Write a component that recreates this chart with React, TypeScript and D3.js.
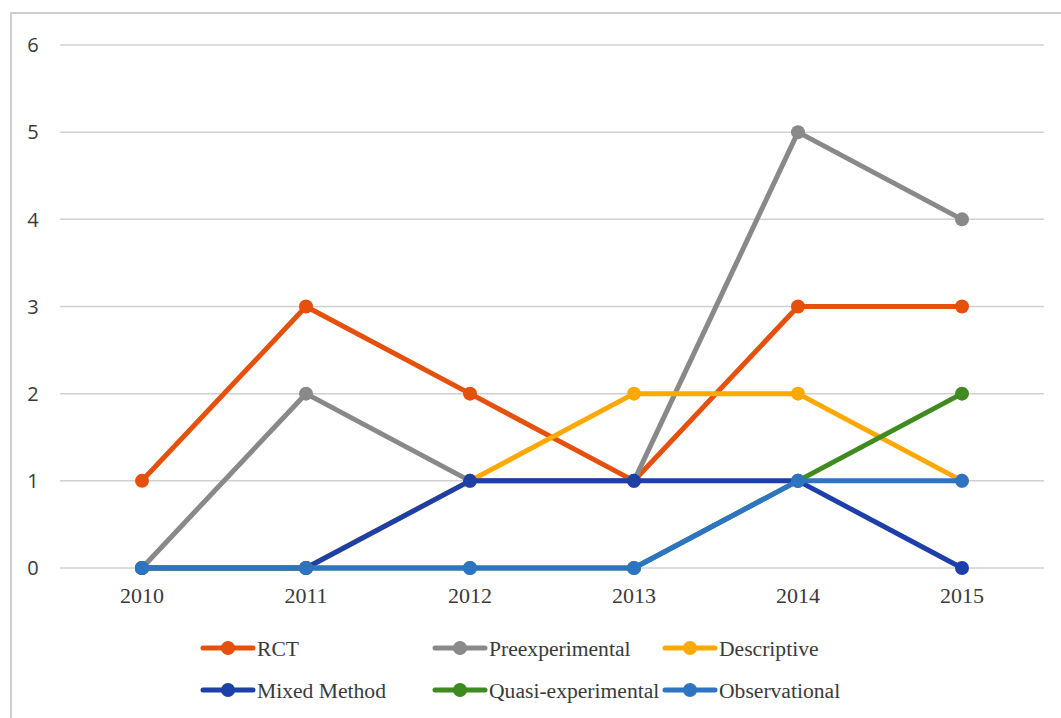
import React, { useEffect, useRef } from 'react';
import * as d3 from 'd3';

const years = ['2010', '2011', '2012', '2013', '2014', '2015'];
const yTicks = [0, 1, 2, 3, 4, 5, 6];

const rct = [1, 3, 2, 1, 3, 3];
const preexperimental = [0, 2, 1, 1, 5, 4];
const descriptive = [0, 0, 1, 2, 2, 1];
const mixedMethod = [0, 0, 1, 1, 1, 0];
const quasiExperimental = [0, 0, 0, 0, 1, 2];
const observational = [0, 0, 0, 0, 1, 1];

const seriesNames = ['RCT', 'Preexperimental', 'Descriptive', 'Mixed Method', 'Quasi-experimental', 'Observational'];
const seriesValues = [rct, preexperimental, descriptive, mixedMethod, quasiExperimental, observational];
const colors = ['#E5500D', '#898989', '#FEA902', '#1C3FA8', '#3F8B1F', '#2D75C2'];

const SERIF = "'Liberation Serif', 'Times New Roman', serif";
const SANS = "'Open Sans', 'Liberation Sans', sans-serif";

export default function App() {
  const ref = useRef<SVGSVGElement>(null);

  useEffect(() => {
    const svg = d3.select(ref.current);
    svg.selectAll('*').remove();

    // outer frame
    svg.append('rect')
      .attr('x', 11).attr('y', 13)
      .attr('width', 1070).attr('height', 720)
      .attr('fill', 'white')
      .attr('stroke', '#cfcfcf')
      .attr('stroke-width', 2);

    const x = d3.scalePoint<string>().domain(years).range([142, 962]);
    const y = d3.scaleLinear().domain([0, 6]).range([568, 45]);

    // gridlines
    svg.append('g').selectAll('line').data(yTicks).join('line')
      .attr('x1', 60).attr('x2', 1044)
      .attr('y1', d => y(d)).attr('y2', d => y(d))
      .attr('stroke', '#d0d0d0')
      .attr('stroke-width', 1.5);

    svg.append('g').selectAll('text').data(yTicks).join('text')
      .attr('x', 33).attr('y', d => y(d))
      .attr('dy', '0.36em')
      .attr('text-anchor', 'middle')
      .style('font-family', SANS)
      .style('font-size', '20px')
      .attr('fill', '#3a3a3a')
      .text(d => d);

    svg.append('g').selectAll('text').data(years).join('text')
      .attr('x', d => x(d)!).attr('y', 603)
      .attr('text-anchor', 'middle')
      .style('font-family', SERIF)
      .style('font-size', '22px')
      .attr('fill', '#3a3a3a')
      .text(d => d);

    const line = d3.line<number>()
      .x((_, i) => x(years[i])!)
      .y(d => y(d));

    seriesValues.forEach((vals, s) => {
      const g = svg.append('g');
      g.append('path')
        .datum(vals)
        .attr('fill', 'none')
        .attr('stroke', colors[s])
        .attr('stroke-width', 5)
        .attr('stroke-linejoin', 'round')
        .attr('d', line);
      g.selectAll('circle').data(vals).join('circle')
        .attr('cx', (_, i) => x(years[i])!)
        .attr('cy', d => y(d))
        .attr('r', 7)
        .attr('fill', colors[s]);
    });

    // legend
    const legendX = [203, 435, 665];
    const legendY = [648, 690];
    seriesNames.forEach((name, i) => {
      const lx = legendX[i % 3];
      const ly = legendY[Math.floor(i / 3)];
      const g = svg.append('g');
      g.append('line')
        .attr('x1', lx).attr('x2', lx + 50)
        .attr('y1', ly).attr('y2', ly)
        .attr('stroke', colors[i])
        .attr('stroke-width', 5)
        .attr('stroke-linecap', 'round');
      g.append('circle')
        .attr('cx', lx + 25).attr('cy', ly).attr('r', 7)
        .attr('fill', colors[i]);
      g.append('text')
        .attr('x', lx + 54).attr('y', ly)
        .attr('dy', '0.35em')
        .style('font-family', SERIF)
        .style('font-size', '21.6px')
        .attr('fill', '#3a3a3a')
        .text(name);
    });
  }, []);

  return (
    <svg ref={ref} width={1061} height={718}
      style={{ position: 'absolute', left: 0, top: 0, background: 'white' }} />
  );
}
